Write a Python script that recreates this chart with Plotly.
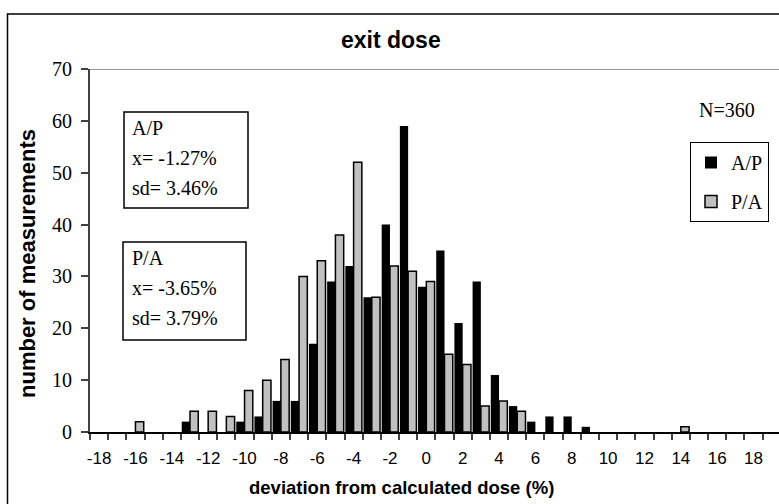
import plotly.graph_objects as go

# Deviation categories (%) and counts per bin for each beam direction
deviation = [-18, -17, -16, -15, -14, -13, -12, -11, -10, -9, -8, -7, -6, -5, -4,
             -3, -2, -1, 0, 1, 2, 3, 4, 5, 6, 7, 8, 9, 10, 11, 12, 13, 14, 15,
             16, 17, 18, 19]
ap_counts = [0, 0, 0, 0, 0, 2, 0, 0, 2, 3, 6, 6, 17, 29, 32,
             26, 40, 59, 28, 35, 21, 29, 11, 5, 2, 3, 3, 1, 0, 0, 0, 0, 0, 0,
             0, 0, 0, 0]
pa_counts = [0, 0, 2, 0, 0, 4, 4, 3, 8, 10, 14, 30, 33, 38, 52,
             26, 32, 31, 29, 15, 13, 5, 6, 4, 0, 0, 0, 0, 0, 0, 0, 0, 1, 0,
             0, 0, 0, 0]
tick_values = [-18, -16, -14, -12, -10, -8, -6, -4, -2, 0, 2, 4, 6, 8, 10, 12, 14, 16, 18]
tick_labels = [str(v) for v in tick_values]
bin_edges = [v - 0.5 for v in deviation]

ap_lines = ["A/P", "x= -1.27%", "sd= 3.46%"]
pa_lines = ["P/A", "x= -3.65%", "sd= 3.79%"]
n_text = "N=360"

SERIF = "Liberation Serif, Times New Roman, serif"
SANS = "Liberation Sans, Arial, sans-serif"

# plot-area geometry (pixels) used to place the free text and boxes
W, H = 779, 504
PL, PT, PW, PH = 90, 69, 689, 363
Y_MAX = 70


def px_x(x):
    return (x - PL) / PW


def px_y(y):
    return (PT + PH - y) / PH


fig = go.Figure()
fig.add_trace(go.Bar(
    x=deviation, y=[v if v else None for v in ap_counts], name="A/P",
    marker=dict(color="black", line=dict(color="black", width=0)),
    legendgroup="ap",
))
fig.add_trace(go.Bar(
    x=deviation, y=[v if v else None for v in pa_counts], name="P/A",
    marker=dict(color="#c0c0c0", line=dict(color="black", width=1.5)),
    legendgroup="pa",
))

fig.update_layout(
    width=W, height=H,
    margin=dict(l=PL, r=W - PL - PW, t=PT, b=H - PT - PH),
    paper_bgcolor="white", plot_bgcolor="white",
    barmode="group", bargap=0.09, bargroupgap=0,
    showlegend=True,
    legend=dict(
        x=px_x(690), y=px_y(142), xanchor="left", yanchor="top",
        bordercolor="black", borderwidth=1, bgcolor="white",
        font=dict(family=SERIF, size=20, color="black"),
        tracegroupgap=10, traceorder="grouped",
    ),
    xaxis=dict(
        range=[-18.5, 19.4], tickmode="array", tickvals=tick_values, ticktext=tick_labels,
        ticks="", showgrid=False, zeroline=False,
        showline=True, linecolor="black", linewidth=1.5,
        tickfont=dict(family=SANS, size=17, color="black"),
        minor=dict(tickmode="array", tickvals=bin_edges, ticks="outside",
                   ticklen=6, tickcolor="#404040", tickwidth=1.5, showgrid=False),
        ticklabelstandoff=10,
    ),
    xaxis2=dict(
        overlaying="x", anchor="y", matches="x", range=[-18.5, 19.4],
        tickmode="array", tickvals=bin_edges, ticks="inside", ticklen=6,
        tickcolor="#404040", tickwidth=1.5, showticklabels=False,
        showgrid=False, zeroline=False, showline=False,
    ),
    yaxis=dict(
        range=[0, Y_MAX], tickmode="linear", tick0=0, dtick=10,
        ticks="outside", ticklen=7, tickcolor="#404040", tickwidth=1.5,
        showgrid=False, zeroline=False,
        showline=True, linecolor="#404040", linewidth=2,
        tickfont=dict(family=SERIF, size=20, color="black"),
        ticklabelstandoff=5,
    ),
    yaxis2=dict(
        overlaying="y", anchor="x", matches="y", range=[0, Y_MAX],
        tickmode="linear", tick0=0, dtick=10, ticks="inside", ticklen=7,
        tickcolor="#404040", tickwidth=1.5, showticklabels=False,
        showgrid=False, zeroline=False, showline=False,
    ),
)

shapes = [
    # top boundary of the plot area
    dict(type="line", xref="paper", yref="y", x0=0, x1=1, y0=Y_MAX, y1=Y_MAX,
         line=dict(color="#999999", width=2), layer="below"),
    # outer chart frame
    dict(type="rect", xref="paper", yref="paper",
         x0=px_x(7.5), x1=px_x(800), y0=px_y(14), y1=px_y(530),
         line=dict(color="black", width=1.5), fillcolor="rgba(0,0,0,0)"),
    # statistics boxes
    dict(type="rect", xref="paper", yref="paper",
         x0=px_x(124), x1=px_x(248), y0=px_y(112), y1=px_y(208),
         line=dict(color="black", width=1.5), fillcolor="white"),
    dict(type="rect", xref="paper", yref="paper",
         x0=px_x(123), x1=px_x(246), y0=px_y(242), y1=px_y(340),
         line=dict(color="black", width=1.5), fillcolor="white"),
]
fig.update_layout(shapes=shapes)

annotations = [
    dict(text="<b>exit dose</b>", xref="paper", yref="paper", x=px_x(391), y=px_y(40),
         xanchor="center", yanchor="middle", showarrow=False,
         font=dict(family=SANS, size=23, color="black")),
    dict(text="<b>deviation from calculated dose (%)</b>", xref="paper", yref="paper",
         x=px_x(401), y=px_y(487), xanchor="center", yanchor="middle", showarrow=False,
         font=dict(family=SANS, size=18.5, color="black")),
    dict(text="<b>number of measurements</b>", xref="paper", yref="paper",
         x=px_x(27), y=px_y(264), xanchor="center", yanchor="middle", textangle=-90,
         showarrow=False, font=dict(family=SANS, size=22, color="black")),
    dict(text=n_text, xref="paper", yref="paper", x=px_x(727), y=px_y(110),
         xanchor="center", yanchor="middle", showarrow=False,
         font=dict(family=SERIF, size=20, color="black")),
]
for i, line in enumerate(ap_lines):
    annotations.append(dict(
        text=line, xref="paper", yref="paper", x=px_x(130), y=px_y(128 + 30 * i),
        xanchor="left", yanchor="middle", showarrow=False,
        font=dict(family=SERIF, size=20, color="black")))
for i, line in enumerate(pa_lines):
    annotations.append(dict(
        text=line, xref="paper", yref="paper", x=px_x(130), y=px_y(258 + 30 * i),
        xanchor="left", yanchor="middle", showarrow=False,
        font=dict(family=SERIF, size=20, color="black")))
fig.update_layout(annotations=annotations)

fig.write_html("out.html")
